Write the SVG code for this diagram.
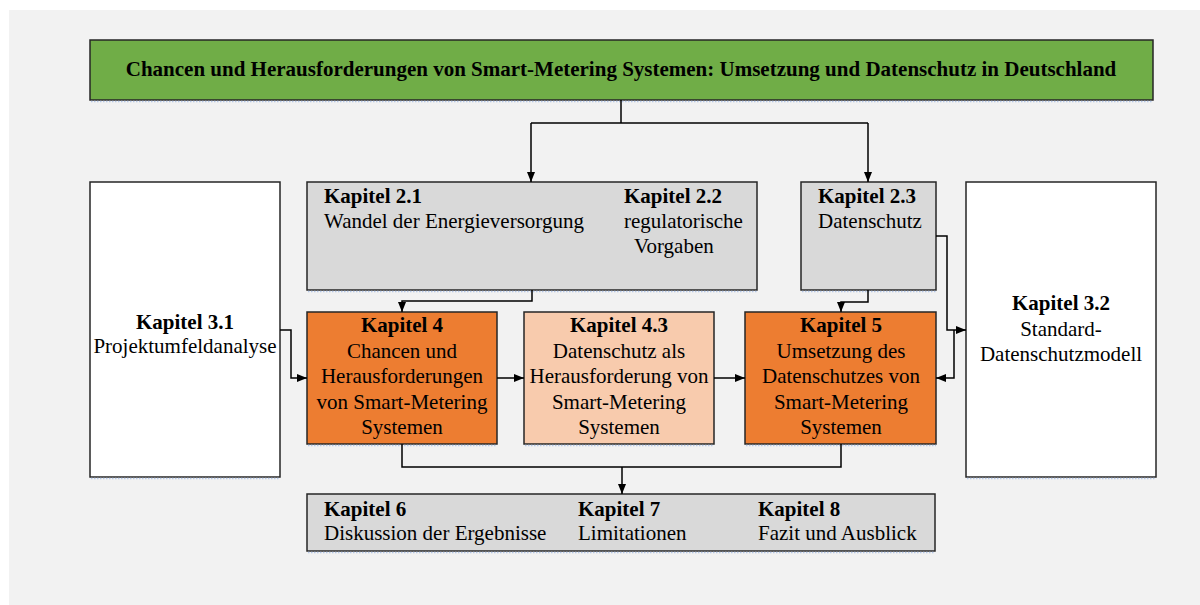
<svg xmlns="http://www.w3.org/2000/svg" width="1200" height="605" viewBox="0 0 1200 605">
<defs>
<marker id="arr" markerUnits="userSpaceOnUse" markerWidth="10" markerHeight="10" viewBox="0 0 10 10" refX="10" refY="5" orient="auto">
<path d="M0,1 L10,5 L0,9 Z" fill="#000"/>
</marker>
<style>
.box{stroke:#262626;stroke-width:1.5}
.shadow{stroke:#b4c7e7;stroke-width:1.5;stroke-dasharray:1.5 1.5;fill:none}
.t{font-family:"Liberation Serif","Times New Roman",serif;font-size:21px;fill:#000}
.b{font-weight:bold}
.c{text-anchor:middle}
.ln{fill:none;stroke:#000;stroke-width:1.5}
</style>
</defs>
<rect x="0" y="0" width="1200" height="605" fill="#ffffff"/>
<rect x="9" y="10" width="1191" height="595" fill="#f2f2f2"/>

<g id="title">
<rect class="box" x="90" y="40" width="1063" height="60" fill="#70ad47"/>
<line class="shadow" x1="91" y1="101.5" x2="1153" y2="101.5"/>
<text class="t b c" x="621" y="76" font-size="20.2">Chancen und Herausforderungen von Smart-Metering Systemen: Umsetzung und Datenschutz in Deutschland</text>
</g>

<g id="k21_22">
<rect class="box" x="307" y="182" width="450" height="108" fill="#d9d9d9"/>
<line class="shadow" x1="308" y1="291.5" x2="757" y2="291.5"/>
<text class="t b" x="324" y="203">Kapitel 2.1</text>
<text class="t" x="324" y="228">Wandel der Energieversorgung</text>
<text class="t b" x="624" y="203">Kapitel 2.2</text>
<text class="t" x="624" y="228">regulatorische</text>
<text class="t" x="634" y="253">Vorgaben</text>
</g>

<g id="k23">
<rect class="box" x="801" y="182" width="135" height="108" fill="#d9d9d9"/>
<line class="shadow" x1="802" y1="291.5" x2="936" y2="291.5"/>
<text class="t b" x="818" y="203">Kapitel 2.3</text>
<text class="t" x="818" y="228">Datenschutz</text>
</g>

<g id="k31">
<rect class="box" x="90" y="182" width="190" height="295" fill="#ffffff"/>
<line class="shadow" x1="91" y1="478.5" x2="280" y2="478.5"/>
<text class="t b c" x="185" y="329">Kapitel 3.1</text>
<text class="t c" x="185" y="353">Projektumfeldanalyse</text>
</g>

<g id="k32">
<rect class="box" x="966" y="182" width="190" height="295" fill="#ffffff"/>
<line class="shadow" x1="967" y1="478.5" x2="1156" y2="478.5"/>
<text class="t b c" x="1061" y="310">Kapitel 3.2</text>
<text class="t c" x="1061" y="336">Standard-</text>
<text class="t c" x="1061" y="361">Datenschutzmodell</text>
</g>

<g id="k4">
<rect class="box" x="307" y="312" width="190" height="132" fill="#ed7d31"/>
<line class="shadow" x1="308" y1="445.5" x2="497" y2="445.5"/>
<text class="t b c" x="402" y="332">Kapitel 4</text>
<text class="t c" x="402" y="358">Chancen und</text>
<text class="t c" x="402" y="383">Herausforderungen</text>
<text class="t c" x="402" y="409">von Smart-Metering</text>
<text class="t c" x="402" y="434">Systemen</text>
</g>

<g id="k43">
<rect class="box" x="524" y="312" width="190" height="132" fill="#f8cbad"/>
<line class="shadow" x1="525" y1="445.5" x2="714" y2="445.5"/>
<text class="t b c" x="619" y="332">Kapitel 4.3</text>
<text class="t c" x="619" y="358">Datenschutz als</text>
<text class="t c" x="619" y="383">Herausforderung von</text>
<text class="t c" x="619" y="409">Smart-Metering</text>
<text class="t c" x="619" y="434">Systemen</text>
</g>

<g id="k5">
<rect class="box" x="745" y="312" width="191" height="132" fill="#ed7d31"/>
<line class="shadow" x1="746" y1="445.5" x2="936" y2="445.5"/>
<text class="t b c" x="841" y="332">Kapitel 5</text>
<text class="t c" x="841" y="358">Umsetzung des</text>
<text class="t c" x="841" y="383">Datenschutzes von</text>
<text class="t c" x="841" y="409">Smart-Metering</text>
<text class="t c" x="841" y="434">Systemen</text>
</g>

<g id="k678">
<rect class="box" x="307" y="494" width="628" height="57" fill="#d9d9d9"/>
<line class="shadow" x1="308" y1="552.5" x2="935" y2="552.5"/>
<text class="t b" x="324" y="516">Kapitel 6</text>
<text class="t" x="324" y="540">Diskussion der Ergebnisse</text>
<text class="t b" x="578" y="516">Kapitel 7</text>
<text class="t" x="578" y="540">Limitationen</text>
<text class="t b" x="758" y="516">Kapitel 8</text>
<text class="t" x="758" y="540">Fazit und Ausblick</text>
</g>

<g id="connectors">
<path class="ln" d="M621,100 V123"/>
<path class="ln" d="M531,123 H868"/>
<path class="ln" d="M531,123 V182" marker-end="url(#arr)"/>
<path class="ln" d="M868,123 V182" marker-end="url(#arr)"/>
<path class="ln" d="M532,290 V301 H402 V312" marker-end="url(#arr)"/>
<path class="ln" d="M868,290 V302 H841 V312" marker-end="url(#arr)"/>
<path class="ln" d="M936,236 H947 V330 H966" marker-end="url(#arr)"/>
<path class="ln" d="M954,330 V378 H936" marker-end="url(#arr)"/>
<path class="ln" d="M280,330 H291 V378 H307" marker-end="url(#arr)"/>
<path class="ln" d="M497,378 H524" marker-end="url(#arr)"/>
<path class="ln" d="M714,378 H745" marker-end="url(#arr)"/>
<path class="ln" d="M402,444 V467 H841 V444"/>
<path class="ln" d="M622,467 V494" marker-end="url(#arr)"/>
</g>
</svg>
